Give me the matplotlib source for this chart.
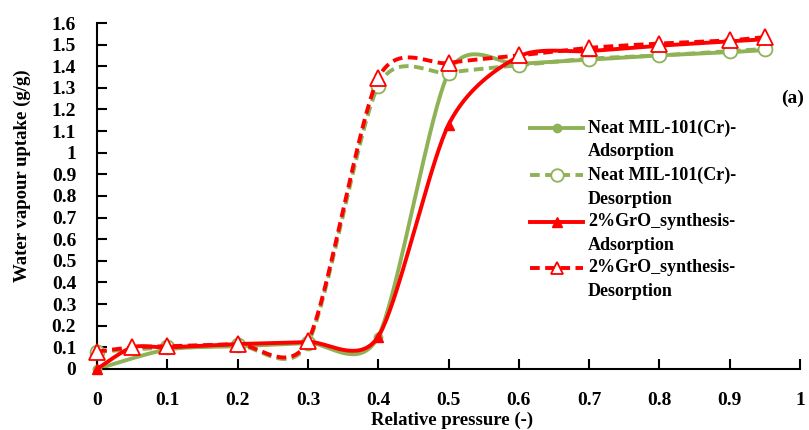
import numpy as np
import matplotlib
matplotlib.use("Agg")
from matplotlib import pyplot as plt
from matplotlib.lines import Line2D

plt.rcParams['font.family'] = ['Liberation Serif', 'DejaVu Serif']
plt.rcParams['font.weight'] = 'bold'

# data
x_neat = [0, 0.1, 0.2, 0.3, 0.4, 0.5, 0.6, 0.7, 0.8, 0.9, 0.95]
neat_ads = [0, 0.09, 0.105, 0.12, 0.15, 1.37, 1.41, 1.43, 1.45, 1.465, 1.475]
neat_des = [0.08, 0.10, 0.11, 0.12, 1.31, 1.37, 1.405, 1.435, 1.45, 1.47, 1.48]

x_gro = [0, 0.05, 0.1, 0.2, 0.3, 0.4, 0.5, 0.6, 0.7, 0.8, 0.9, 0.95]
gro_ads = [0, 0.10, 0.10, 0.115, 0.125, 0.15, 1.13, 1.445, 1.47, 1.495, 1.515, 1.525]
gro_des = [0.08, 0.10, 0.105, 0.115, 0.13, 1.345, 1.415, 1.45, 1.485, 1.505, 1.52, 1.535]

labels = [('Neat MIL-101(Cr)-', 'Adsorption'), ('Neat MIL-101(Cr)-', 'Desorption'),
          ('2%GrO_synthesis-', 'Adsorption'), ('2%GrO_synthesis-', 'Desorption')]

green = '#8fb257'
red = '#ff0000'


def smooth(x, y, k=0.135, n=40):
    # excel-style smoothed line (bezier through the points)
    p = np.column_stack([x, y]).astype(float)
    ext = np.vstack([p[0], p, p[-1]])
    out = []
    t = np.linspace(0, 1, n)[:, None]
    for i in range(len(p) - 1):
        p0, p1, p2, p3 = ext[i], ext[i + 1], ext[i + 2], ext[i + 3]
        c1 = p1 + (p2 - p0) * k
        c2 = p2 - (p3 - p1) * k
        seg = ((1 - t) ** 3) * p1 + 3 * ((1 - t) ** 2) * t * c1 + 3 * (1 - t) * t ** 2 * c2 + t ** 3 * p2
        out.append(seg)
    out = np.vstack(out)
    return out[:, 0], out[:, 1]


fig = plt.figure(figsize=(8.09, 4.30), dpi=100)
ax = fig.add_axes([0.12, 0.142, 0.869, 0.8045])

lw = 2.8
dash = (2.5, 1.4)

sx, sy = smooth(x_neat, neat_ads)
ax.plot(sx, sy, color=green, lw=lw, zorder=2)
ax.plot(x_neat, neat_ads, 'o', color=green, ms=6, zorder=3, clip_on=False)

sx, sy = smooth(x_neat, neat_des)
ax.plot(sx, sy, color=green, lw=lw, dashes=dash, zorder=4)
ax.plot(x_neat, neat_des, 'o', mfc='white', mec=green, mew=1.3, ms=10, zorder=5, clip_on=False)

sx, sy = smooth(x_gro, gro_ads)
ax.plot(sx, sy, color=red, lw=lw, zorder=6)
ax.plot(x_gro, gro_ads, '^', color=red, ms=7, zorder=7, clip_on=False)

sx, sy = smooth(x_gro, gro_des)
ax.plot(sx, sy, color=red, lw=lw, dashes=dash, zorder=8)
ax.plot(x_gro, gro_des, '^', mfc='white', mec=red, mew=1.3, ms=11, zorder=9, clip_on=False)

ax.set_xlim(0, 1)
ax.set_ylim(0, 1.6)
ax.set_xticks(np.arange(0, 1.01, 0.1))
ax.set_xticklabels(['0', '0.1', '0.2', '0.3', '0.4', '0.5', '0.6', '0.7', '0.8', '0.9', '1'])
ax.set_yticks(np.arange(0, 1.61, 0.1))
ax.set_yticklabels(['0' if i == 0 else ('1' if i == 10 else '%.1f' % (i / 10)) for i in range(17)])
ax.tick_params(direction='in', length=7, width=1.5, labelsize=14)
ax.tick_params(axis='y', pad=15)
ax.tick_params(axis='x', pad=16.5)
for s in ['top', 'right']:
    ax.spines[s].set_visible(False)
for s in ['left', 'bottom']:
    ax.spines[s].set_linewidth(1.5)
ax.patch.set_alpha(0)

fig.text(22 / 809, 1 - 176 / 430, 'Water vapour uptake (g/g)', rotation=90,
         ha='center', va='center', fontsize=13.5, fontweight='bold')
fig.text(452 / 809, 1 - 420 / 430, 'Relative pressure (-)', ha='center', va='center',
         fontsize=13.5, fontweight='bold')
fig.text(793 / 809, 1 - 98 / 430, '(a)', ha='center', va='center', fontsize=14, fontweight='bold')

# legend drawn by hand
styles = [dict(color=green, lw=lw, marker='o', ms=6),
          dict(color=green, lw=lw, dashes=dash, marker='o', mfc='white', mec=green, mew=1.3, ms=9),
          dict(color=red, lw=lw, marker='^', ms=7),
          dict(color=red, lw=lw, dashes=dash, marker='^', mfc='white', mec=red, mew=1.3, ms=9)]
rows = [128, 175, 222, 268]
for (l1, l2), st, yp in zip(labels, styles, rows):
    yf = 1 - yp / 430
    fig.add_artist(Line2D([530 / 809, 583 / 809], [yf, yf],
                          **{k: v for k, v in st.items() if not k.startswith('m')}))
    fig.add_artist(Line2D([557 / 809], [yf], linestyle='none',
                          **{k: v for k, v in st.items() if k.startswith('m') or k == 'color'}))
    fig.text(588 / 809, yf, l1, ha='left', va='center', fontsize=13, fontweight='bold')
    fig.text(588 / 809, 1 - (yp + 24) / 430, l2, ha='left', va='center', fontsize=13, fontweight='bold')

fig.savefig('out.png', dpi=100)
